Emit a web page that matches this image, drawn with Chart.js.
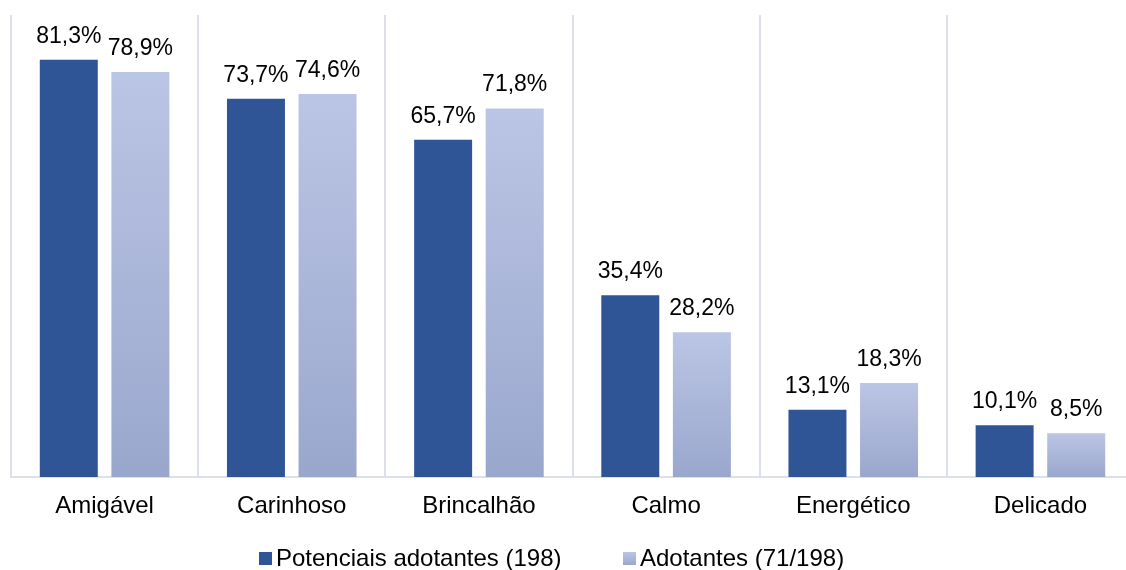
<!DOCTYPE html>
<html>
<head>
<meta charset="utf-8">
<script src="https://cdn.jsdelivr.net/npm/chart.js@4"></script>
<style>
  html, body { margin: 0; padding: 0; background: #fff; overflow: hidden; }
  #wrap { width: 1126px; height: 570px; overflow: hidden; }
</style>
</head>
<body>
<div id="wrap"><canvas id="myChart" width="1136" height="570"></canvas></div>
<script>
// categories and values (%)
var categories = ['Amigável', 'Carinhoso', 'Brincalhão', 'Calmo', 'Energético', 'Delicado'];
var potenciais = [81.3, 73.7, 65.7, 35.4, 13.1, 10.1];
var adotantes = [78.9, 74.6, 71.8, 28.2, 18.3, 8.5];
var seriesNames = ['Potenciais adotantes (198)', 'Adotantes (71/198)'];

var FONT = "'Liberation Sans', Arial, sans-serif";
var DARK = '#2F5597';

function makeGradient(c, top, bottom) {
    var g = c.createLinearGradient(0, top, 0, bottom);
    g.addColorStop(0, '#BBC5E5');
    g.addColorStop(1, '#9AA7CD');
    return g;
}

// vertical gradient for each light bar
function lightGradient(context) {
    var chart = context.chart;
    var area = chart.chartArea;
    if (!area) return '#B3BEE2';
    var top = chart.scales.y.getPixelForValue(context.raw);
    var bottom = area.bottom;
    if (!isFinite(top) || top >= bottom) top = bottom - 1;
    return makeGradient(chart.ctx, top, bottom);
}

// value labels above bars, decimal comma
const valueLabels = {
    id: 'valueLabels',
    afterDatasetsDraw(chart) {
        const ctx = chart.ctx;
        ctx.save();
        ctx.font = '23px ' + FONT;
        ctx.fillStyle = '#000';
        ctx.textAlign = 'center';
        ctx.textBaseline = 'alphabetic';
        chart.data.datasets.forEach(function (ds, i) {
            chart.getDatasetMeta(i).data.forEach(function (bar, j) {
                var txt = ds.data[j].toFixed(1).replace('.', ',') + '%';
                ctx.fillText(txt, bar.x, bar.y - 17);
            });
        });
        ctx.restore();
    }
};

// legend at the bottom, drawn by hand to match spacing
const bottomLegend = {
    id: 'bottomLegend',
    afterDraw(chart) {
        const ctx = chart.ctx;
        var items = [{x: 259, color: DARK}, {x: 623, color: null}];
        ctx.save();
        ctx.font = '24px ' + FONT;
        ctx.textBaseline = 'middle';
        items.forEach(function (it, i) {
            ctx.fillStyle = it.color || makeGradient(ctx, 552, 565);
            ctx.fillRect(it.x, 552, 13, 13);
            ctx.fillStyle = '#000';
            ctx.fillText(seriesNames[i], it.x + 17, 559);
        });
        ctx.restore();
    }
};

var data = {
    labels: categories,
    datasets: [{
        label: seriesNames[0],
        backgroundColor: DARK,
        data: potenciais,
        barPercentage: 0.81,
        categoryPercentage: 0.765
    },
    {
        label: seriesNames[1],
        backgroundColor: lightGradient,
        data: adotantes,
        barPercentage: 0.81,
        categoryPercentage: 0.765
    }]
};

const config = {
    type: 'bar',
    data: data,
    plugins: [valueLabels, bottomLegend],
    options: {
        responsive: false,
        animation: false,
        layout: {
            padding: {left: 11, right: 2, top: 15, bottom: 0}
        },
        plugins: {
            legend: {display: false},
            tooltip: {enabled: false}
        },
        scales: {
            x: {
                afterFit: function (scale) { scale.height = 93; },
                grid: {
                    display: true,
                    offset: true,
                    color: '#DBE0EA',
                    lineWidth: 2,
                    drawTicks: false
                },
                border: {display: true, color: '#DBE0EA', width: 2},
                ticks: {
                    font: {size: 24, family: FONT},
                    color: '#000',
                    padding: 15
                }
            },
            y: {
                display: false,
                min: 0,
                max: 90
            }
        }
    }
};

const myChart = new Chart(document.getElementById('myChart'), config);
</script>
</body>
</html>
